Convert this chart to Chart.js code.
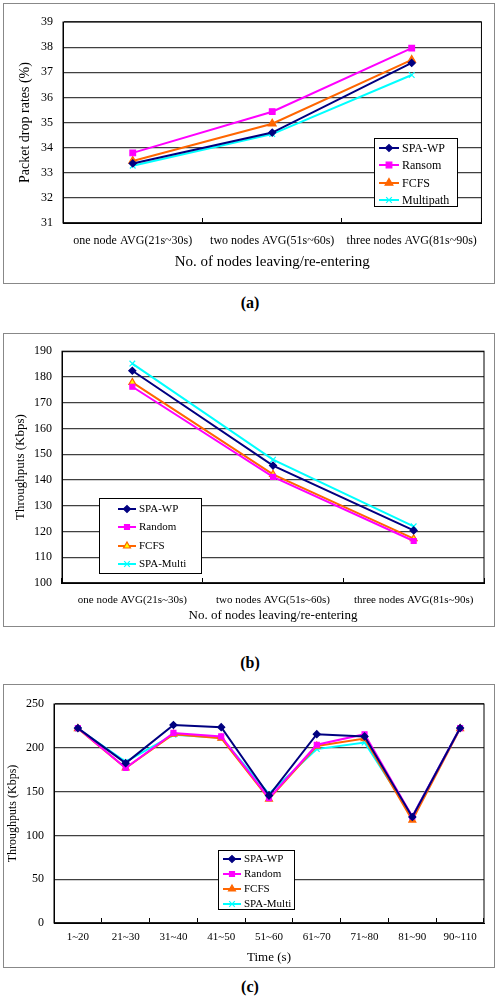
<!DOCTYPE html>
<html>
<head>
<meta charset="utf-8">
<script src="https://cdn.jsdelivr.net/npm/chart.js@4"></script>
<style>
    body { margin: 0; background: #fff; width: 500px; height: 1000px; position: relative; font-family: "Liberation Serif", serif; }
    .box { position: absolute; left: 3px; width: 492px; border: 1px solid #888; box-sizing: border-box; background: #fff; }
    .cap { position: absolute; left: 0; width: 500px; text-align: center; font: bold 16px "Liberation Serif", serif; }
</style>
</head>
<body>
<div class="box" style="top:3px;height:281px;"><canvas id="chartA"></canvas></div>
<div class="cap" style="top:294px;">(a)</div>
<div class="box" style="top:333px;height:294px;"><canvas id="chartB"></canvas></div>
<div class="cap" style="top:654px;">(b)</div>
<div class="box" style="top:684px;height:284px;"><canvas id="chartC"></canvas></div>
<div class="cap" style="top:978px;">(c)</div>
<script>
// (a) packet drop rates
var nodeLabels = ["one node AVG(21s~30s)", "two nodes AVG(51s~60s)", "three nodes AVG(81s~90s)"];
var dropSpaWp = [33.37, 34.6, 37.37];
var dropRansom = [33.79, 35.43, 37.96];
var dropFcfs = [33.47, 34.95, 37.49];
var dropMultipath = [33.28, 34.54, 36.89];

// (b) throughputs per scenario
var thrSpaWp = [182.4, 145.6, 120.4];
var thrRandom = [176.2, 141.2, 116.3];
var thrFcfs = [177.9, 142.2, 117.2];
var thrSpaMulti = [185.2, 147.9, 122];

// (c) throughputs over time
var timeLabels = ["1~20", "21~30", "31~40", "41~50", "51~60", "61~70", "71~80", "81~90", "90~110"];
var timeSpaWp = [222.5, 182.5, 226, 223.5, 145.5, 215.5, 213, 121, 222.5];
var timeRandom = [222.5, 177, 217, 213, 142.5, 203.5, 215.5, 121.5, 222.5];
var timeFcfs = [222, 177, 215.5, 211, 141.5, 202, 210.5, 117.5, 222];
var timeSpaMulti = [222, 184, 215, 211.5, 147.5, 198.5, 206, 121.5, 222.5];

var NAVY = "#000080", MAGENTA = "#FF00FF", ORANGE = "#FF6600", CYAN = "#00FFFF";
var SERIF = "'Liberation Serif', 'Times New Roman', serif";

function serie(label, data, color, style, radius, fill) {
    return {
        label: label,
        data: data,
        borderColor: color,
        backgroundColor: color,
        pointBackgroundColor: fill || color,
        pointBorderColor: color,
        pointStyle: style,
        pointRadius: radius,
        pointBorderWidth: 1.2,
        borderWidth: 2,
        tension: 0,
    };
}

// caja de la leyenda dentro del area del grafico
var boxLegend = {
    id: "boxLegend",
    afterDraw: function (chart, args, opts) {
        var ctx = chart.ctx;
        ctx.save();
        // borde del area de trazado
        var a = chart.chartArea;
        ctx.strokeStyle = "#000";
        ctx.lineWidth = 1;
        ctx.strokeRect(a.left, a.top, a.right - a.left, a.bottom - a.top);

        ctx.fillStyle = "#fff";
        ctx.fillRect(opts.x, opts.y, opts.w, opts.h);
        ctx.strokeRect(opts.x + 0.5, opts.y + 0.5, opts.w, opts.h);
        ctx.font = opts.size + "px " + SERIF;
        ctx.textBaseline = "middle";
        chart.data.datasets.forEach(function (ds, i) {
            var y = opts.rows[i];
            ctx.strokeStyle = ds.borderColor;
            ctx.lineWidth = 2;
            ctx.beginPath();
            ctx.moveTo(opts.lineX, y);
            ctx.lineTo(opts.lineX + opts.lineW, y);
            ctx.stroke();
            ctx.fillStyle = ds.pointBackgroundColor;
            ctx.strokeStyle = ds.pointBorderColor;
            ctx.lineWidth = 1.2;
            Chart.helpers.drawPoint(ctx, {
                pointStyle: ds.pointStyle, radius: ds.pointRadius, rotation: 0, borderWidth: 1.2
            }, opts.lineX + opts.lineW / 2, y);
            ctx.fillStyle = "#000";
            ctx.fillText(ds.label, opts.lineX + opts.lineW + 3, y + 0.5);
        });
        ctx.restore();
    },
};

function buildOptions(o) {
    return {
        responsive: true,
        maintainAspectRatio: false,
        animation: false,
        layout: { padding: { top: o.padTop, right: o.padRight, left: 0, bottom: 0 } },
        plugins: {
            legend: { display: false },
            tooltip: { enabled: false },
            boxLegend: o.legend,
        },
        scales: {
            x: {
                offset: true,
                grid: { offset: true, drawOnChartArea: false, drawTicks: true, tickLength: -5, color: "#000" },
                border: { color: "#000" },
                ticks: { color: "#000", font: { family: SERIF, size: o.xTickSize }, padding: o.xTickPad, maxRotation: 0, autoSkip: false },
                title: { display: true, text: o.xTitle, color: "#000", font: { family: SERIF, size: o.xTitleSize }, padding: { top: 0, bottom: o.xTitlePad } },
                afterFit: function (scale) { scale.height = o.xHeight; },
            },
            y: {
                min: o.min,
                max: o.max,
                grid: { color: "#404040", lineWidth: 1.2, drawTicks: false },
                border: { color: "#000" },
                ticks: { stepSize: o.step, color: "#000", font: { family: SERIF, size: 12 }, padding: 10 },
                title: { display: true, text: o.yTitle, color: "#000", font: { family: SERIF, size: o.yTitleSize }, padding: { top: o.yTitlePad, bottom: 0 } },
                afterFit: function (scale) { scale.width = o.yWidth; },
            },
        },
    };
}

new Chart(document.getElementById("chartA"), {
    type: "line",
    data: {
        labels: nodeLabels,
        datasets: [
            serie("SPA-WP", dropSpaWp, NAVY, "rectRot", 3.5),
            serie("Ransom", dropRansom, MAGENTA, "rect", 4),
            serie("FCFS", dropFcfs, ORANGE, "triangle", 4.5),
            serie("Multipath", dropMultipath, CYAN, "crossRot", 4),
        ],
    },
    options: buildOptions({
        padTop: 18, padRight: 7, xHeight: 60, yWidth: 59,
        xTickSize: 12, xTickPad: 16, xTitle: "No. of nodes leaving/re-entering", xTitleSize: 15, xTitlePad: 12,
        yTitle: "Packet drop rates (%)", yTitleSize: 14, yTitlePad: 13,
        min: 31, max: 39, step: 1,
        legend: { x: 370, y: 134, w: 83, h: 68, rows: [144, 161, 179, 196], lineX: 375, lineW: 20, size: 12 },
    }),
    plugins: [boxLegend],
});

new Chart(document.getElementById("chartB"), {
    type: "line",
    data: {
        labels: nodeLabels,
        datasets: [
            serie("SPA-WP", thrSpaWp, NAVY, "rectRot", 3.5),
            serie("Random", thrRandom, MAGENTA, "rect", 3.5),
            serie("FCFS", thrFcfs, ORANGE, "triangle", 4, "#FFFF00"),
            serie("SPA-Multi", thrSpaMulti, CYAN, "crossRot", 4),
        ],
    },
    options: buildOptions({
        padTop: 16, padRight: 10, xHeight: 43, yWidth: 58,
        xTickSize: 11, xTickPad: 16, xTitle: "No. of nodes leaving/re-entering", xTitleSize: 13, xTitlePad: 3,
        yTitle: "Throughputs (Kbps)", yTitleSize: 13, yTitlePad: 9,
        min: 100, max: 190, step: 10,
        legend: { x: 95, y: 164, w: 102, h: 75, rows: [175, 193, 212, 230], lineX: 114, lineW: 18, size: 11 },
    }),
    plugins: [boxLegend],
});

new Chart(document.getElementById("chartC"), {
    type: "line",
    data: {
        labels: timeLabels,
        datasets: [
            serie("SPA-WP", timeSpaWp, NAVY, "rectRot", 3.5),
            serie("Random", timeRandom, MAGENTA, "rect", 3.5),
            serie("FCFS", timeFcfs, ORANGE, "triangle", 4),
            serie("SPA-Multi", timeSpaMulti, CYAN, "crossRot", 4),
        ],
    },
    options: buildOptions({
        padTop: 19, padRight: 10, xHeight: 44, yWidth: 50,
        xTickSize: 11, xTickPad: 13, xTitle: "Time (s)", xTitleSize: 13, xTitlePad: 2,
        yTitle: "Throughputs (Kbps)", yTitleSize: 12, yTitlePad: 2,
        min: 0, max: 250, step: 50,
        legend: { x: 214, y: 165, w: 76, h: 59, rows: [174, 189, 204, 219], lineX: 219, lineW: 18, size: 11 },
    }),
    plugins: [boxLegend],
});
</script>
</body>
</html>
